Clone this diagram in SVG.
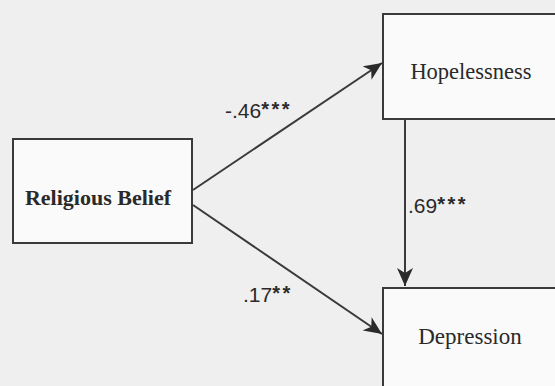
<svg xmlns="http://www.w3.org/2000/svg" width="555" height="386" viewBox="0 0 555 386">
<style>
.box{fill:#fafafa;stroke:#3a3a3a;stroke-width:2}
.nl{font-family:"Liberation Serif",serif;fill:#2a2a2a;text-anchor:middle}
.el{font-family:"Liberation Sans",sans-serif;font-size:21px;fill:#2a2a2a}
.st{font-size:20px;font-weight:bold;letter-spacing:2.5px}
.edge{stroke:#3a3a3a;stroke-width:2;fill:none;marker-end:url(#ah)}
</style>
<defs>
<marker id="ah" markerUnits="userSpaceOnUse" markerWidth="20" markerHeight="16" refX="18" refY="8" orient="auto">
<path d="M0,0 L18,8 L0,16 L5,8 z" fill="#2a2a2a"/>
</marker>
</defs>
<rect width="555" height="386" fill="#efefef"/>
<g id="religious-belief">
<rect class="box" x="13" y="139" width="179" height="104"/>
<text class="nl" x="98" y="205" font-size="22" font-weight="bold">Religious Belief</text>
</g>
<g id="hopelessness">
<rect class="box" x="383" y="14" width="180" height="105"/>
<text class="nl" x="471" y="79" font-size="22.5">Hopelessness</text>
</g>
<g id="depression">
<rect class="box" x="383" y="288" width="180" height="110"/>
<text class="nl" x="470" y="344" font-size="23">Depression</text>
</g>
<g id="connectors">
<line class="edge" x1="193" y1="190" x2="382" y2="63"/>
<line class="edge" x1="193" y1="205" x2="382" y2="334"/>
<line class="edge" x1="405" y1="119" x2="405" y2="286"/>
<text class="el" x="225" y="118">-.46<tspan class="st" dy="-2">***</tspan></text>
<text class="el" x="243" y="302">.17<tspan class="st" dy="-2">**</tspan></text>
<text class="el" x="408" y="213">.69<tspan class="st" dy="-2">***</tspan></text>
</g>
</svg>
